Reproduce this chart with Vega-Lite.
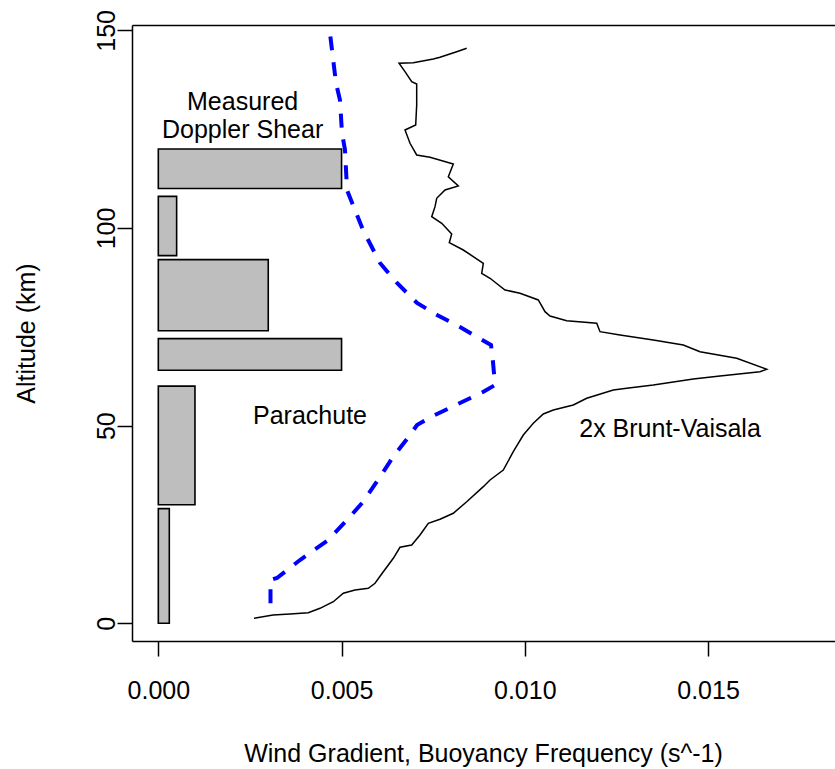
{
  "$schema": "https://vega.github.io/schema/vega-lite/v6.json",
  "width": 703,
  "height": 616,
  "autosize": {"type": "none"},
  "padding": {"left": 132, "top": 25, "right": 0, "bottom": 128},
  "background": "white",
  "config": {
    "font": "Liberation Sans",
    "view": {"stroke": null},
    "axis": {
      "grid": false,
      "domainColor": "#000000",
      "domainWidth": 1.5,
      "tickColor": "#000000",
      "tickWidth": 1.5,
      "tickSize": 15,
      "labelColor": "#000000",
      "labelFont": "Liberation Sans",
      "labelFontSize": 25,
      "titleColor": "#000000",
      "titleFont": "Liberation Sans",
      "titleFontSize": 25,
      "titleFontWeight": "normal"
    }
  },
  "datasets": {
    "bars": [
      {"lo": 0, "hi": 29, "start": 0, "w": 0.0003},
      {"lo": 30, "hi": 60, "start": 0, "w": 0.001},
      {"lo": 64, "hi": 72, "start": 0, "w": 0.005},
      {"lo": 74, "hi": 92, "start": 0, "w": 0.003},
      {"lo": 93, "hi": 108, "start": 0, "w": 0.0005},
      {"lo": 110, "hi": 120, "start": 0, "w": 0.005}
    ],
    "shear": [
      {"v": 0.003061, "alt": 5.06},
      {"v": 0.003061, "alt": 10.95},
      {"v": 0.003239, "alt": 11.46},
      {"v": 0.003866, "alt": 16.01},
      {"v": 0.004603, "alt": 20.82},
      {"v": 0.005149, "alt": 26.13},
      {"v": 0.005585, "alt": 30.69},
      {"v": 0.006049, "alt": 37.01},
      {"v": 0.006404, "alt": 42.07},
      {"v": 0.006868, "alt": 47.64},
      {"v": 0.007059, "alt": 50.16},
      {"v": 0.007495, "alt": 52.44},
      {"v": 0.008232, "alt": 55.73},
      {"v": 0.00886, "alt": 58.51},
      {"v": 0.009187, "alt": 60.28},
      {"v": 0.009132, "alt": 66.1},
      {"v": 0.009078, "alt": 70.4},
      {"v": 0.008232, "alt": 74.95},
      {"v": 0.007605, "alt": 77.99},
      {"v": 0.007059, "alt": 81.03},
      {"v": 0.006513, "alt": 86.09},
      {"v": 0.006049, "alt": 91.15},
      {"v": 0.005585, "alt": 99.49},
      {"v": 0.005312, "alt": 105.82},
      {"v": 0.005149, "alt": 109.61},
      {"v": 0.005094, "alt": 119.73},
      {"v": 0.005012, "alt": 124.03},
      {"v": 0.004957, "alt": 132.38},
      {"v": 0.004848, "alt": 136.68},
      {"v": 0.004739, "alt": 145.03},
      {"v": 0.004657, "alt": 151.35},
      {"v": 0.00463, "alt": 154}
    ],
    "bv": [
      {"v": 0.002611, "alt": 1.26},
      {"v": 0.00313, "alt": 2.1},
      {"v": 0.003594, "alt": 2.35},
      {"v": 0.004093, "alt": 2.68},
      {"v": 0.004412, "alt": 3.79},
      {"v": 0.004775, "alt": 5.46},
      {"v": 0.005048, "alt": 7.59},
      {"v": 0.005367, "alt": 8.42},
      {"v": 0.00573, "alt": 8.85},
      {"v": 0.005913, "alt": 10.12},
      {"v": 0.006139, "alt": 13.05},
      {"v": 0.006412, "alt": 16.44},
      {"v": 0.006595, "alt": 19.23},
      {"v": 0.006914, "alt": 19.81},
      {"v": 0.00714, "alt": 22.34},
      {"v": 0.007367, "alt": 25.3},
      {"v": 0.007686, "alt": 26.31},
      {"v": 0.008049, "alt": 27.83},
      {"v": 0.008415, "alt": 30.76},
      {"v": 0.008868, "alt": 34.56},
      {"v": 0.009051, "alt": 36.25},
      {"v": 0.009413, "alt": 38.78},
      {"v": 0.009686, "alt": 43.41},
      {"v": 0.009959, "alt": 47.63},
      {"v": 0.010232, "alt": 50.59},
      {"v": 0.010505, "alt": 52.95},
      {"v": 0.010778, "alt": 53.96},
      {"v": 0.011323, "alt": 55.22},
      {"v": 0.011689, "alt": 56.92},
      {"v": 0.012415, "alt": 59.02},
      {"v": 0.01278, "alt": 59.45},
      {"v": 0.013506, "alt": 60.28},
      {"v": 0.014597, "alt": 61.8},
      {"v": 0.015326, "alt": 62.56},
      {"v": 0.016417, "alt": 63.65},
      {"v": 0.0166, "alt": 64.26},
      {"v": 0.015782, "alt": 67.04},
      {"v": 0.01478, "alt": 68.71},
      {"v": 0.014325, "alt": 70.4},
      {"v": 0.013506, "alt": 71.67},
      {"v": 0.012598, "alt": 72.93},
      {"v": 0.012052, "alt": 73.77},
      {"v": 0.011962, "alt": 75.89},
      {"v": 0.011143, "alt": 76.55},
      {"v": 0.010688, "alt": 77.74},
      {"v": 0.010551, "alt": 78.83},
      {"v": 0.010368, "alt": 81.79},
      {"v": 0.009869, "alt": 83.48},
      {"v": 0.00946, "alt": 84.32},
      {"v": 0.009051, "alt": 87.28},
      {"v": 0.008824, "alt": 88.54},
      {"v": 0.008868, "alt": 91.07},
      {"v": 0.008322, "alt": 94.43},
      {"v": 0.00794, "alt": 96.28},
      {"v": 0.008005, "alt": 98.48},
      {"v": 0.007733, "alt": 101.19},
      {"v": 0.00746, "alt": 102.86},
      {"v": 0.00755, "alt": 105.39},
      {"v": 0.007596, "alt": 107.51},
      {"v": 0.007823, "alt": 109.61},
      {"v": 0.008186, "alt": 110.62},
      {"v": 0.007913, "alt": 112.98},
      {"v": 0.008049, "alt": 116.19},
      {"v": 0.007413, "alt": 117.88},
      {"v": 0.00705, "alt": 118.47},
      {"v": 0.006868, "alt": 121.43},
      {"v": 0.006731, "alt": 124.79},
      {"v": 0.007023, "alt": 126.06},
      {"v": 0.00705, "alt": 131.11},
      {"v": 0.00705, "alt": 136.43},
      {"v": 0.006914, "alt": 137.01},
      {"v": 0.006731, "alt": 139.54},
      {"v": 0.006568, "alt": 141.66},
      {"v": 0.006958, "alt": 141.81},
      {"v": 0.007503, "alt": 142.75},
      {"v": 0.007686, "alt": 143.18},
      {"v": 0.008142, "alt": 144.6},
      {"v": 0.008415, "alt": 145.46}
    ],
    "labels": [
      {"v": 0.0023, "alt": 129.85, "text": "Measured"},
      {"v": 0.0023, "alt": 122.7, "text": "Doppler Shear"},
      {"v": 0.004139, "alt": 50.4, "text": "Parachute"},
      {"v": 0.013962, "alt": 47.2, "text": "2x Brunt-Vaisala"}
    ]
  },
  "resolve": {"axis": {"x": "independent"}},
  "layer": [
    {
      "data": {"name": "bars"},
      "mark": {"type": "rect", "fill": "#BEBEBE", "stroke": "#000000", "strokeWidth": 1.6},
      "encoding": {
        "x": {
          "field": "start",
          "type": "quantitative",
          "scale": {"domain": [-0.000718, 0.018464], "nice": false, "zero": false},
          "axis": {
            "orient": "bottom",
            "values": [0, 0.005, 0.01, 0.015],
            "format": ".3f",
            "labelBaseline": "alphabetic",
            "labelAlign": "center",
            "labelPadding": 42,
            "title": "Wind Gradient, Buoyancy Frequency (s^-1)",
            "titleX": 351,
            "titleY": 120,
            "titleAlign": "center",
            "titleBaseline": "alphabetic"
          }
        },
        "x2": {"field": "w"},
        "y": {
          "field": "lo",
          "type": "quantitative",
          "scale": {"domain": [-4.48, 151.35], "nice": false, "zero": false},
          "axis": {
            "values": [0, 50, 100, 150],
            "labelAngle": -90,
            "labelAlign": "center",
            "labelBaseline": "alphabetic",
            "labelPadding": 3,
            "title": "Altitude (km)",
            "titleAngle": -90,
            "titleAlign": "center",
            "titleBaseline": "alphabetic",
            "titleX": -98,
            "titleY": 308
          }
        },
        "y2": {"field": "hi"}
      }
    },
    {
      "data": {"name": "shear"},
      "mark": {"type": "line", "color": "#0000FF", "strokeWidth": 4, "strokeDash": [14, 12], "clip": true},
      "encoding": {
        "x": {"field": "v", "type": "quantitative", "scale": {"domain": [-0.000718, 0.018464], "nice": false, "zero": false}, "axis": null},
        "y": {"field": "alt", "type": "quantitative", "scale": {"domain": [-4.48, 151.35], "nice": false, "zero": false}, "title": "Altitude (km)"},
        "order": {"field": "alt", "type": "quantitative"}
      }
    },
    {
      "data": {"name": "bv"},
      "mark": {"type": "line", "color": "#000000", "strokeWidth": 1.5, "clip": true},
      "encoding": {
        "x": {"field": "v", "type": "quantitative", "scale": {"domain": [-0.000718, 0.018464], "nice": false, "zero": false}, "axis": null},
        "y": {"field": "alt", "type": "quantitative", "scale": {"domain": [-4.48, 151.35], "nice": false, "zero": false}, "title": "Altitude (km)"},
        "order": {"field": "alt", "type": "quantitative"}
      }
    },
    {
      "data": {"name": "labels"},
      "mark": {"type": "text", "font": "Liberation Sans", "fontSize": 25, "color": "#000000", "align": "center", "baseline": "alphabetic"},
      "encoding": {
        "x": {
          "field": "v",
          "type": "quantitative",
          "scale": {"domain": [-0.000718, 0.018464], "nice": false, "zero": false},
          "axis": {"orient": "top", "labels": false, "ticks": false, "domain": true, "title": null, "grid": false}
        },
        "y": {"field": "alt", "type": "quantitative", "scale": {"domain": [-4.48, 151.35], "nice": false, "zero": false}, "title": "Altitude (km)"},
        "text": {"field": "text"}
      }
    }
  ]
}
